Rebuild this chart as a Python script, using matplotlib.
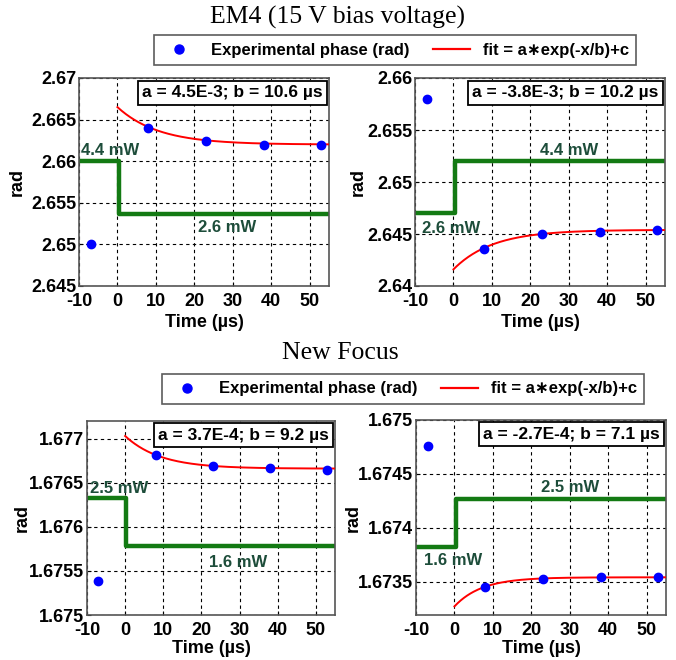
import numpy as np
import matplotlib
matplotlib.use("Agg")
import matplotlib.pyplot as plt
from matplotlib.lines import Line2D

plt.rcParams["font.family"] = ["Liberation Sans", "DejaVu Sans"]
plt.rcParams["font.weight"] = "bold"

# Sample times (us) shared by all panels
t_points = [-7, 8, 23, 38, 53]

# EM4, left: power drop 4.4 -> 2.6 mW
em4_down_phase = [2.6500, 2.6640, 2.6624, 2.6620, 2.6619]
em4_down_fit = dict(a=4.5e-3, b=10.6, c=2.6620)
em4_down_power = [2.6600, 2.6536]
em4_down_power_labels = ["4.4 mW", "2.6 mW"]

# EM4, right: power rise 2.6 -> 4.4 mW
em4_up_phase = [2.6580, 2.6436, 2.6450, 2.6452, 2.6454]
em4_up_fit = dict(a=-3.8e-3, b=10.2, c=2.6454)
em4_up_power = [2.6470, 2.6520]
em4_up_power_labels = ["2.6 mW", "4.4 mW"]

# New Focus, left: power drop 2.5 -> 1.6 mW
nf_down_phase = [1.67539, 1.67681, 1.67669, 1.67667, 1.67665]
nf_down_fit = dict(a=3.7e-4, b=9.2, c=1.67666)
nf_down_power = [1.67633, 1.67578]
nf_down_power_labels = ["2.5 mW", "1.6 mW"]

# New Focus, right: power rise 1.6 -> 2.5 mW
nf_up_phase = [1.67476, 1.67345, 1.67352, 1.67354, 1.67354]
nf_up_fit = dict(a=-2.7e-4, b=7.1, c=1.67354)
nf_up_power = [1.67382, 1.67427]
nf_up_power_labels = ["1.6 mW", "2.5 mW"]

x_ticks = [-10, 0, 10, 20, 30, 40, 50]
x_tick_labels = ["-10", "0", "10", "20", "30", "40", "50"]
em4_down_yticks = [2.645, 2.65, 2.655, 2.66, 2.665, 2.67]
em4_down_ylabels = ["2.645", "2.65", "2.655", "2.66", "2.665", "2.67"]
em4_up_yticks = [2.64, 2.645, 2.65, 2.655, 2.66]
em4_up_ylabels = ["2.64", "2.645", "2.65", "2.655", "2.66"]
nf_down_yticks = [1.675, 1.6755, 1.676, 1.6765, 1.677]
nf_down_ylabels = ["1.675", "1.6755", "1.676", "1.6765", "1.677"]
nf_up_yticks = [1.6735, 1.674, 1.6745, 1.675]
nf_up_ylabels = ["1.6735", "1.674", "1.6745", "1.675"]

W, H = 676, 660
STEP_COLOR = "#137a13"
LABEL_COLOR = "#1d4d3a"


def px_axes(fig, left, right, top, bottom):
    return fig.add_axes([left / W, 1 - bottom / H, (right - left) / W, (bottom - top) / H])


def draw_panel(ax, phase, fit, power, power_labels, label_pos, yticks, ylabels, ylim,
               fit_text, ylabel_x, xlabel_pad):
    # Power step (laser power switched at t = 0)
    ax.step([-10, 0.3, 55], [power[0], power[1], power[1]], where="post",
            color=STEP_COLOR, lw=3.2, zorder=2)
    for lbl, (lx, ly) in zip(power_labels, label_pos):
        ax.text(lx, ly, lbl, color=LABEL_COLOR, fontsize=12, fontweight="bold",
                ha="center", va="center", zorder=3)

    # Exponential fit curve from the displayed parameters
    tt = np.linspace(0, 55, 200)
    ax.plot(tt, fit["a"] * np.exp(-tt / fit["b"]) + fit["c"], color="red", lw=1.4, zorder=3)
    ax.plot(t_points, phase, "o", color="blue", ms=6, zorder=4)

    ax.set_xlim(-10, 55)
    ax.set_ylim(*ylim)
    ax.set_xticks(x_ticks)
    ax.set_xticklabels(x_tick_labels)
    ax.set_yticks(yticks)
    ax.set_yticklabels(ylabels)
    ax.tick_params(labelsize=13, length=3, direction="in")
    ax.tick_params(axis="x", pad=5)
    ax.tick_params(axis="y", pad=2)
    ax.grid(True, color="black", linestyle=(0, (3, 3)), lw=0.8)
    for s in ax.spines.values():
        s.set_color("#555555")
        s.set_linewidth(1.2)
    ax.set_xlabel("Time (µs)", fontsize=13, fontweight="bold", labelpad=xlabel_pad)
    ax.set_ylabel("rad", fontsize=13, fontweight="bold")
    ax.yaxis.set_label_coords(ylabel_x, 0.5)
    ax.text(0.975, 0.965, fit_text, transform=ax.transAxes, ha="right", va="top",
            fontsize=12.5, fontweight="bold", zorder=5,
            bbox=dict(boxstyle="square,pad=0.25", fc="white", ec="black", lw=1.3))


def add_legend(fig, cx, cy):
    handles = [
        Line2D([], [], marker="o", color="blue", ls="none", ms=6.5),
        Line2D([], [], color="red", lw=1.6),
    ]
    leg = fig.legend(handles, ["Experimental phase (rad)", "fit = a∗exp(-x/b)+c"],
                     loc="center", bbox_to_anchor=(cx / W, 1 - cy / H), ncol=2,
                     fontsize=12, frameon=True, fancybox=False, handlelength=2.2,
                     columnspacing=1.4, borderpad=0.45)
    leg.get_frame().set_edgecolor("#333333")
    leg.get_frame().set_linewidth(1.2)


fig = plt.figure(figsize=(W / 100, H / 100), dpi=100)

fig.text(338 / W, 1 - 17 / H, "EM4 (15 V bias voltage)", ha="center", va="center",
         fontsize=18.5, fontweight="normal", family="Liberation Serif")
fig.text(340 / W, 1 - 353 / H, "New Focus", ha="center", va="center",
         fontsize=18.5, fontweight="normal", family="Liberation Serif")
add_legend(fig, 395, 50)
add_legend(fig, 403, 389)

ax1 = px_axes(fig, 79, 329, 78, 286)
draw_panel(ax1, em4_down_phase, em4_down_fit, em4_down_power, em4_down_power_labels,
           [(-2.0, 2.6613), (28.6, 2.6520)], em4_down_yticks, em4_down_ylabels,
           (2.645, 2.67), "a = 4.5E-3; b = 10.6 µs", -0.212, 3)

ax2 = px_axes(fig, 415, 665, 78, 286)
draw_panel(ax2, em4_up_phase, em4_up_fit, em4_up_power, em4_up_power_labels,
           [(-0.7, 2.6455), (30.0, 2.6530)], em4_up_yticks, em4_up_ylabels,
           (2.64, 2.66), "a = -3.8E-3; b = 10.2 µs", -0.192, 3)

ax3 = px_axes(fig, 87, 335, 421, 615)
draw_panel(ax3, nf_down_phase, nf_down_fit, nf_down_power, nf_down_power_labels,
           [(-1.6, 1.67644), (29.5, 1.67560)], nf_down_yticks, nf_down_ylabels,
           (1.675, 1.6772), "a = 3.7E-4; b = 9.2 µs", -0.226, 1)

ax4 = px_axes(fig, 416, 666, 420, 615)
draw_panel(ax4, nf_up_phase, nf_up_fit, nf_up_power, nf_up_power_labels,
           [(-0.4, 1.67370), (30.1, 1.67437)], nf_up_yticks, nf_up_ylabels,
           (1.67319, 1.675), "a = -2.7E-4; b = 7.1 µs", -0.216, 1)

fig.savefig("out.png", dpi=100)
